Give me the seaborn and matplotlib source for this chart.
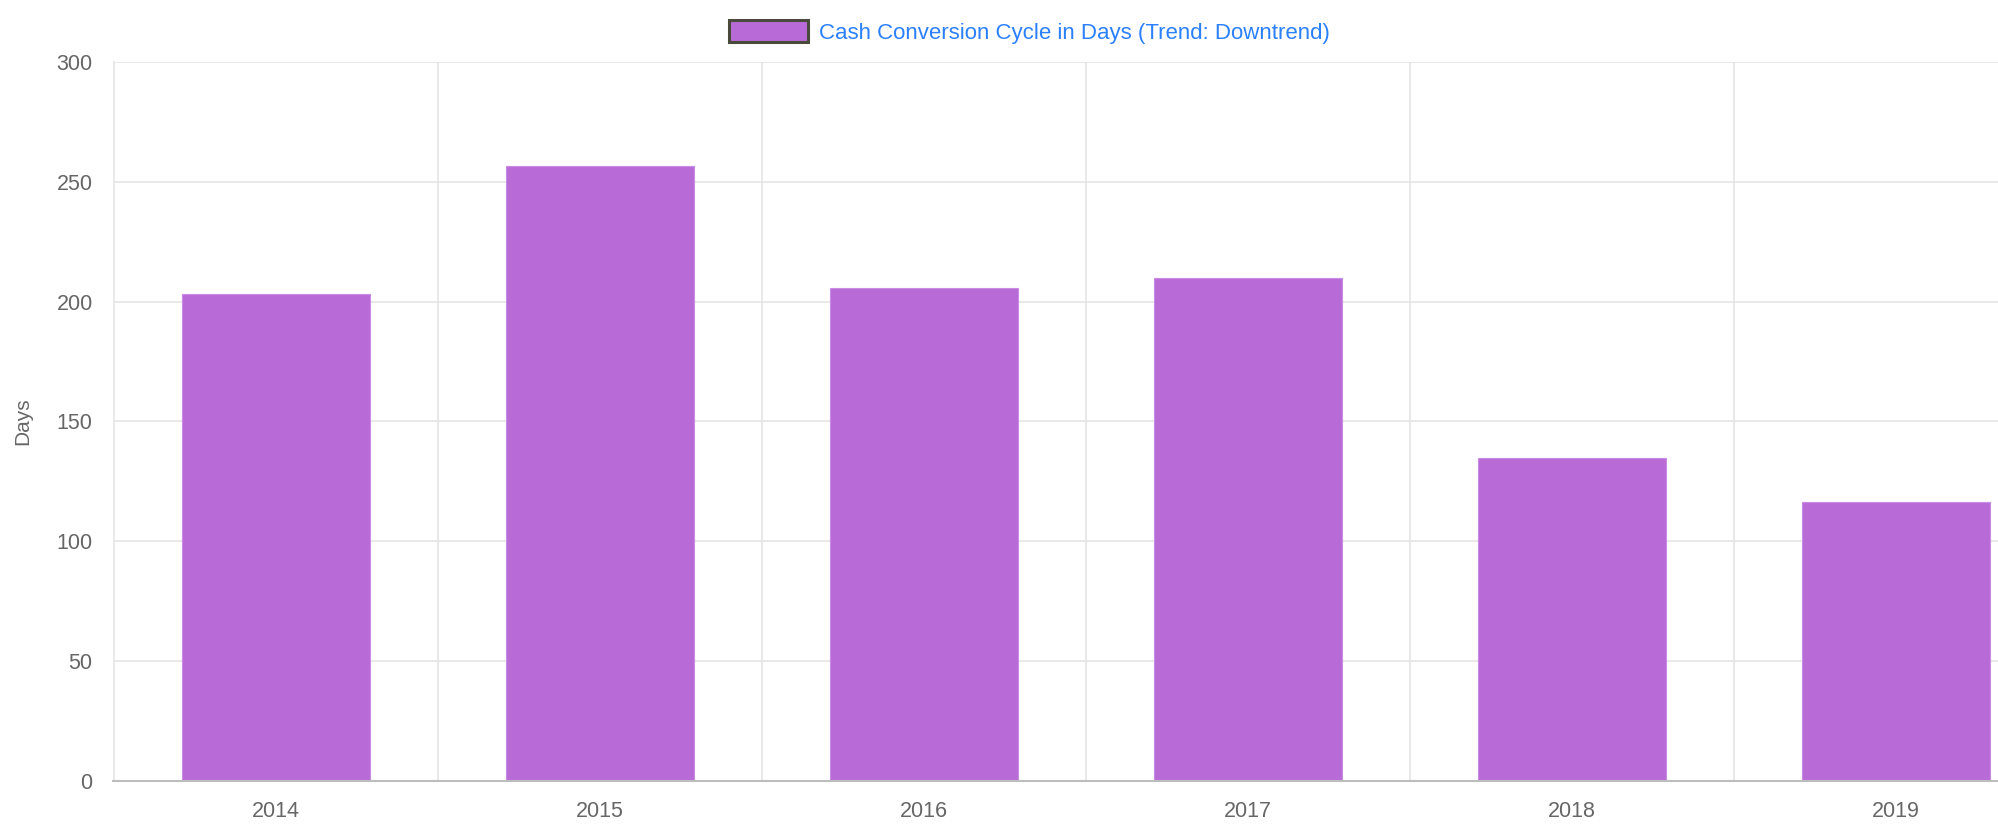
import numpy as np
import pandas as pd
import matplotlib
matplotlib.use('Agg')
import matplotlib.pyplot as plt
import seaborn as sns
from matplotlib.patches import Patch

years = ['2014', '2015', '2016', '2017', '2018', '2019']
ccc_days = [203.0, 256.6, 205.5, 210.0, 134.6, 116.5]
series_label = 'Cash Conversion Cycle in Days (Trend: Downtrend)'
y_ticks = [0, 50, 100, 150, 200, 250, 300]

bar_color = '#b86bd6'
grid_color = '#e5e5e5'
text_color = '#666666'

sns.set_theme(style='white')
plt.rcParams['font.family'] = ['Liberation Sans', 'DejaVu Sans']

df = pd.DataFrame({'Year': years, 'Days': ccc_days})

fig = plt.figure(figsize=(19.99, 8.24), dpi=100)
# axes runs past the right edge, like the cropped original
ax = fig.add_axes([113.5 / 1999, 43 / 824, 1944.5 / 1999, 719 / 824])

sns.barplot(data=df, x='Year', y='Days', color=bar_color, width=0.58,
            saturation=1, edgecolor='#c98be3', linewidth=0.8, ax=ax, zorder=3)

ax.set_xlim(-0.5, len(years) - 0.5)
ax.set_ylim(0, 300)
ax.set_yticks(y_ticks)

# category boundaries as minor ticks carry the vertical grid
ax.set_xticks(np.arange(-0.5, len(years), 1.0), minor=True)
ax.grid(which='minor', axis='x', color=grid_color, linewidth=1.2, zorder=0)
ax.grid(which='major', axis='y', color=grid_color, linewidth=1.2, zorder=0)
ax.grid(which='major', axis='x', visible=False)

ax.tick_params(axis='x', which='major', length=0, pad=14.5, labelsize=15.5, labelcolor=text_color)
ax.tick_params(axis='x', which='minor', length=12.5, width=1.2, color=grid_color)
ax.tick_params(axis='y', which='major', length=13, width=1.2, color=grid_color, pad=2,
               labelsize=15.5, labelcolor=text_color)

for side in ['top', 'right']:
    ax.spines[side].set_visible(False)
ax.spines['left'].set_color(grid_color)
ax.spines['left'].set_linewidth(1.2)
ax.spines['bottom'].set_color('#bdbdbd')
ax.spines['bottom'].set_linewidth(1.5)
ax.spines['bottom'].set_zorder(4)

ax.set_xlabel('')
ax.set_ylabel('Days', fontsize=15, color=text_color)
ax.yaxis.set_label_coords(-0.042, 0.5)

handle = Patch(facecolor=bar_color, edgecolor='#4a4a3c', linewidth=2.2)
fig.legend([handle], [series_label], loc='center', bbox_to_anchor=(0.515, 0.961),
           frameon=False, fontsize=16, labelcolor='#2a80ff',
           handlelength=3.56, handleheight=1.13, handletextpad=0.5, borderpad=0)

fig.savefig('out.png', dpi=100)
